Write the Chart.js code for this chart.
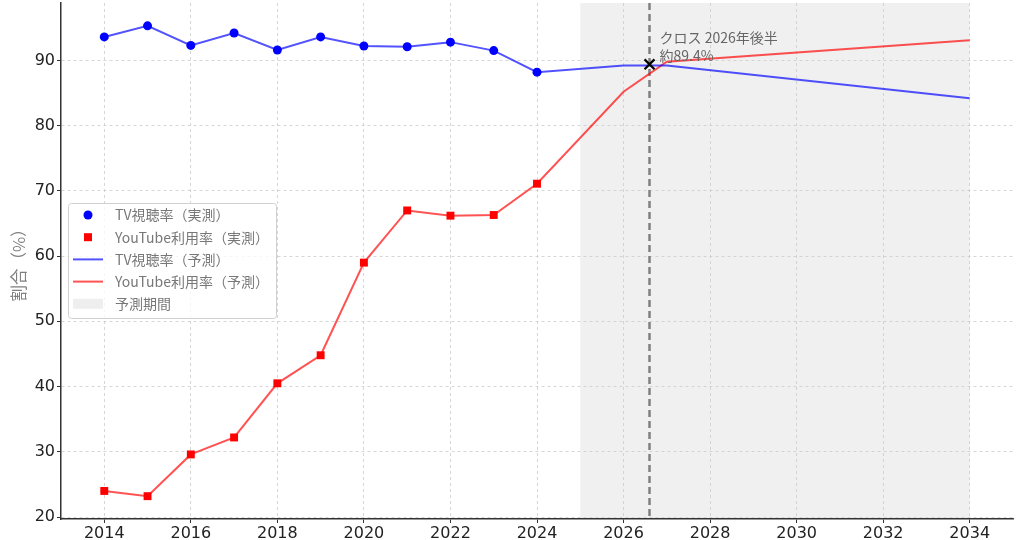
<!DOCTYPE html>
<html lang="ja">
<head>
  <meta charset="UTF-8">
  <title>TV視聴率とYouTube利用率</title>
  <script src="https://cdn.jsdelivr.net/npm/chart.js"></script>
  <style>
    body { margin: 0; background: #ffffff; }
    canvas { display: block; }
  </style>
</head>
<body>
  <canvas id="crossChart" width="1024" height="540"></canvas>

  <script>
    const years = [2014, 2015, 2016, 2017, 2018, 2019, 2020, 2021, 2022, 2023, 2024];
    const tvActual = [93.6, 95.3, 92.3, 94.2, 91.6, 93.6, 92.2, 92.1, 92.8, 91.5, 88.2];
    const ytActual = [24.0, 23.2, 29.6, 32.2, 40.5, 44.8, 59.0, 67.0, 66.2, 66.3, 71.1];

    const forecastYears = [2026, 2027, 2034];
    const tvForecast = [89.2, 89.2, 84.2];
    const ytForecast = [85.2, 89.8, 93.1];

    const forecastStart = 2025;
    const forecastEnd = 2034;
    const crossYear = 2026.6;
    const crossValue = 89.4;

    const xTicks = [2014, 2016, 2018, 2020, 2022, 2024, 2026, 2028, 2030, 2032, 2034];
    const yTicks = [20, 30, 40, 50, 60, 70, 80, 90];

    const legendLabels = ['TV視聴率（実測）', 'YouTube利用率（実測）', 'TV視聴率（予測）', 'YouTube利用率（予測）', '予測期間'];

    const jpFont = "'Noto Sans CJK JP', 'Noto Sans', sans-serif";
    const tvLine = 'rgba(0, 0, 255, 0.68)';
    const ytLine = 'rgba(255, 0, 0, 0.68)';

    const toPoints = (xs, ys) => xs.map((x, i) => ({ x: x, y: ys[i] }));

    // shaded forecast span, drawn before grid so the grid shows through
    const forecastSpan = {
      id: 'forecastSpan',
      beforeDraw(chart) {
        const { ctx, chartArea, scales } = chart;
        const x0 = scales.x.getPixelForValue(forecastStart);
        const x1 = scales.x.getPixelForValue(forecastEnd);
        ctx.save();
        ctx.fillStyle = '#f0f0f0';
        ctx.fillRect(x0, chartArea.top, x1 - x0, chartArea.bottom - chartArea.top);
        ctx.restore();
      },
      beforeDatasetsDraw(chart) {
        const { ctx, chartArea, scales } = chart;
        const x = scales.x.getPixelForValue(crossYear);
        ctx.save();
        ctx.strokeStyle = '#808080';
        ctx.lineWidth = 2.5;
        ctx.setLineDash([7, 4]);
        ctx.beginPath();
        ctx.moveTo(x, chartArea.top);
        ctx.lineTo(x, chartArea.bottom);
        ctx.stroke();
        ctx.restore();
      },
      afterDatasetsDraw(chart) {
        const { ctx, scales } = chart;
        const x = scales.x.getPixelForValue(crossYear);
        const y = scales.y.getPixelForValue(crossValue);
        ctx.save();
        ctx.fillStyle = '#666666';
        ctx.font = '14px ' + jpFont;
        ctx.textBaseline = 'alphabetic';
        ctx.fillText('クロス ' + '2026年後半', x + 10, y - 21);
        ctx.fillText('約' + crossValue + '%', x + 10, y - 3);
        ctx.restore();
      }
    };

    // legend inside the plot, upper left of the middle
    const innerLegend = {
      id: 'innerLegend',
      afterDraw(chart) {
        const { ctx, chartArea } = chart;
        const bx = chartArea.left + 7, by = 203, bw = 208, bh = 115;
        ctx.save();
        ctx.fillStyle = 'rgba(255,255,255,0.8)';
        ctx.strokeStyle = '#d0d0d0';
        ctx.lineWidth = 1;
        ctx.beginPath();
        ctx.roundRect(bx + 0.5, by + 0.5, bw, bh, 3);
        ctx.fill();
        ctx.stroke();

        const mx = bx + 20;
        const rowY = i => by + 12 + i * 22.2;
        // markers
        ctx.fillStyle = '#0000ff';
        ctx.beginPath();
        ctx.arc(mx, rowY(0), 4.5, 0, Math.PI * 2);
        ctx.fill();
        ctx.fillStyle = '#ff0000';
        ctx.fillRect(mx - 4, rowY(1) - 4, 8, 8);
        ctx.lineWidth = 2;
        ctx.strokeStyle = tvLine;
        ctx.beginPath(); ctx.moveTo(mx - 15, rowY(2)); ctx.lineTo(mx + 15, rowY(2)); ctx.stroke();
        ctx.strokeStyle = ytLine;
        ctx.beginPath(); ctx.moveTo(mx - 15, rowY(3)); ctx.lineTo(mx + 15, rowY(3)); ctx.stroke();
        ctx.fillStyle = '#eeeeee';
        ctx.fillRect(mx - 15, rowY(4) - 5, 30, 10);

        ctx.fillStyle = '#777777';
        ctx.font = '14px ' + jpFont;
        ctx.textBaseline = 'middle';
        legendLabels.forEach((t, i) => ctx.fillText(t, bx + 47, rowY(i)));
        ctx.restore();
      }
    };

    // drop the half-label padding Chart.js reserves above the y axis
    const noEdgePad = s => {
      s.paddingTop = 0;
      s.paddingBottom = 0;
    };

    new Chart(document.getElementById('crossChart'), {
      type: 'line',
      data: {
        datasets: [
          {
            label: 'クロス',
            data: [{ x: crossYear, y: crossValue }],
            showLine: false,
            pointStyle: 'crossRot',
            pointRadius: 7,
            borderColor: '#000000',
            borderWidth: 2.2,
            order: 0
          },
          {
            label: legendLabels[0],
            data: toPoints(years, tvActual),
            showLine: false,
            pointStyle: 'circle',
            pointRadius: 4.5,
            backgroundColor: '#0000ff',
            borderColor: '#0000ff',
            borderWidth: 0,
            order: 1
          },
          {
            label: legendLabels[1],
            data: toPoints(years, ytActual),
            showLine: false,
            pointStyle: 'rect',
            pointRadius: 5.6,
            backgroundColor: '#ff0000',
            borderColor: '#ff0000',
            borderWidth: 0,
            order: 1
          },
          {
            label: legendLabels[2],
            data: toPoints(years.concat(forecastYears), tvActual.concat(tvForecast)),
            borderColor: tvLine,
            borderWidth: 2,
            pointRadius: 0,
            tension: 0,
            order: 2
          },
          {
            label: legendLabels[3],
            data: toPoints(years.concat(forecastYears), ytActual.concat(ytForecast)),
            borderColor: ytLine,
            borderWidth: 2,
            pointRadius: 0,
            tension: 0,
            order: 2
          }
        ]
      },
      options: {
        responsive: false,
        animation: false,
        devicePixelRatio: 1,
        layout: { autoPadding: false, padding: { top: 3, right: 11, left: 0, bottom: 0 } },
        plugins: {
          legend: { display: false },
          tooltip: { enabled: false }
        },
        scales: {
          x: {
            type: 'linear',
            min: 2013,
            max: 2035,
            afterBuildTicks: s => { s.ticks = xTicks.map(v => ({ value: v })); },
            afterFit: s => { s.height = 21; s.paddingLeft = 0; s.paddingRight = 0; },
            ticks: {
              color: '#222222',
              font: { family: 'DejaVu Sans', size: 16 },
              padding: 1,
              maxRotation: 0,
              callback: v => String(v)
            },
            grid: {
              color: '#cccccc',
              lineWidth: 0.8,
              tickColor: '#333333',
              tickLength: 4,
              tickWidth: 1
            },
            border: { color: '#333333', width: 1.5, dash: [3, 3] }
          },
          y: {
            min: 19.7,
            max: 98.8,
            afterBuildTicks: s => { s.ticks = yTicks.map(v => ({ value: v })); },
            afterFit: s => { s.width = 61; noEdgePad(s); },
            ticks: {
              color: '#222222',
              font: { family: 'DejaVu Sans', size: 16 },
              padding: 2
            },
            grid: {
              color: '#cccccc',
              lineWidth: 0.8,
              tickColor: '#333333',
              tickLength: 4,
              tickWidth: 1
            },
            border: { color: '#333333', width: 1.5, dash: [3, 3] },
            title: {
              display: true,
              text: '割合（%）',
              color: '#808080',
              font: { family: jpFont, size: 16.5 },
              padding: { top: 9, bottom: 0 }
            }
          }
        }
      },
      plugins: [forecastSpan, innerLegend]
    });
  </script>
</body>
</html>
